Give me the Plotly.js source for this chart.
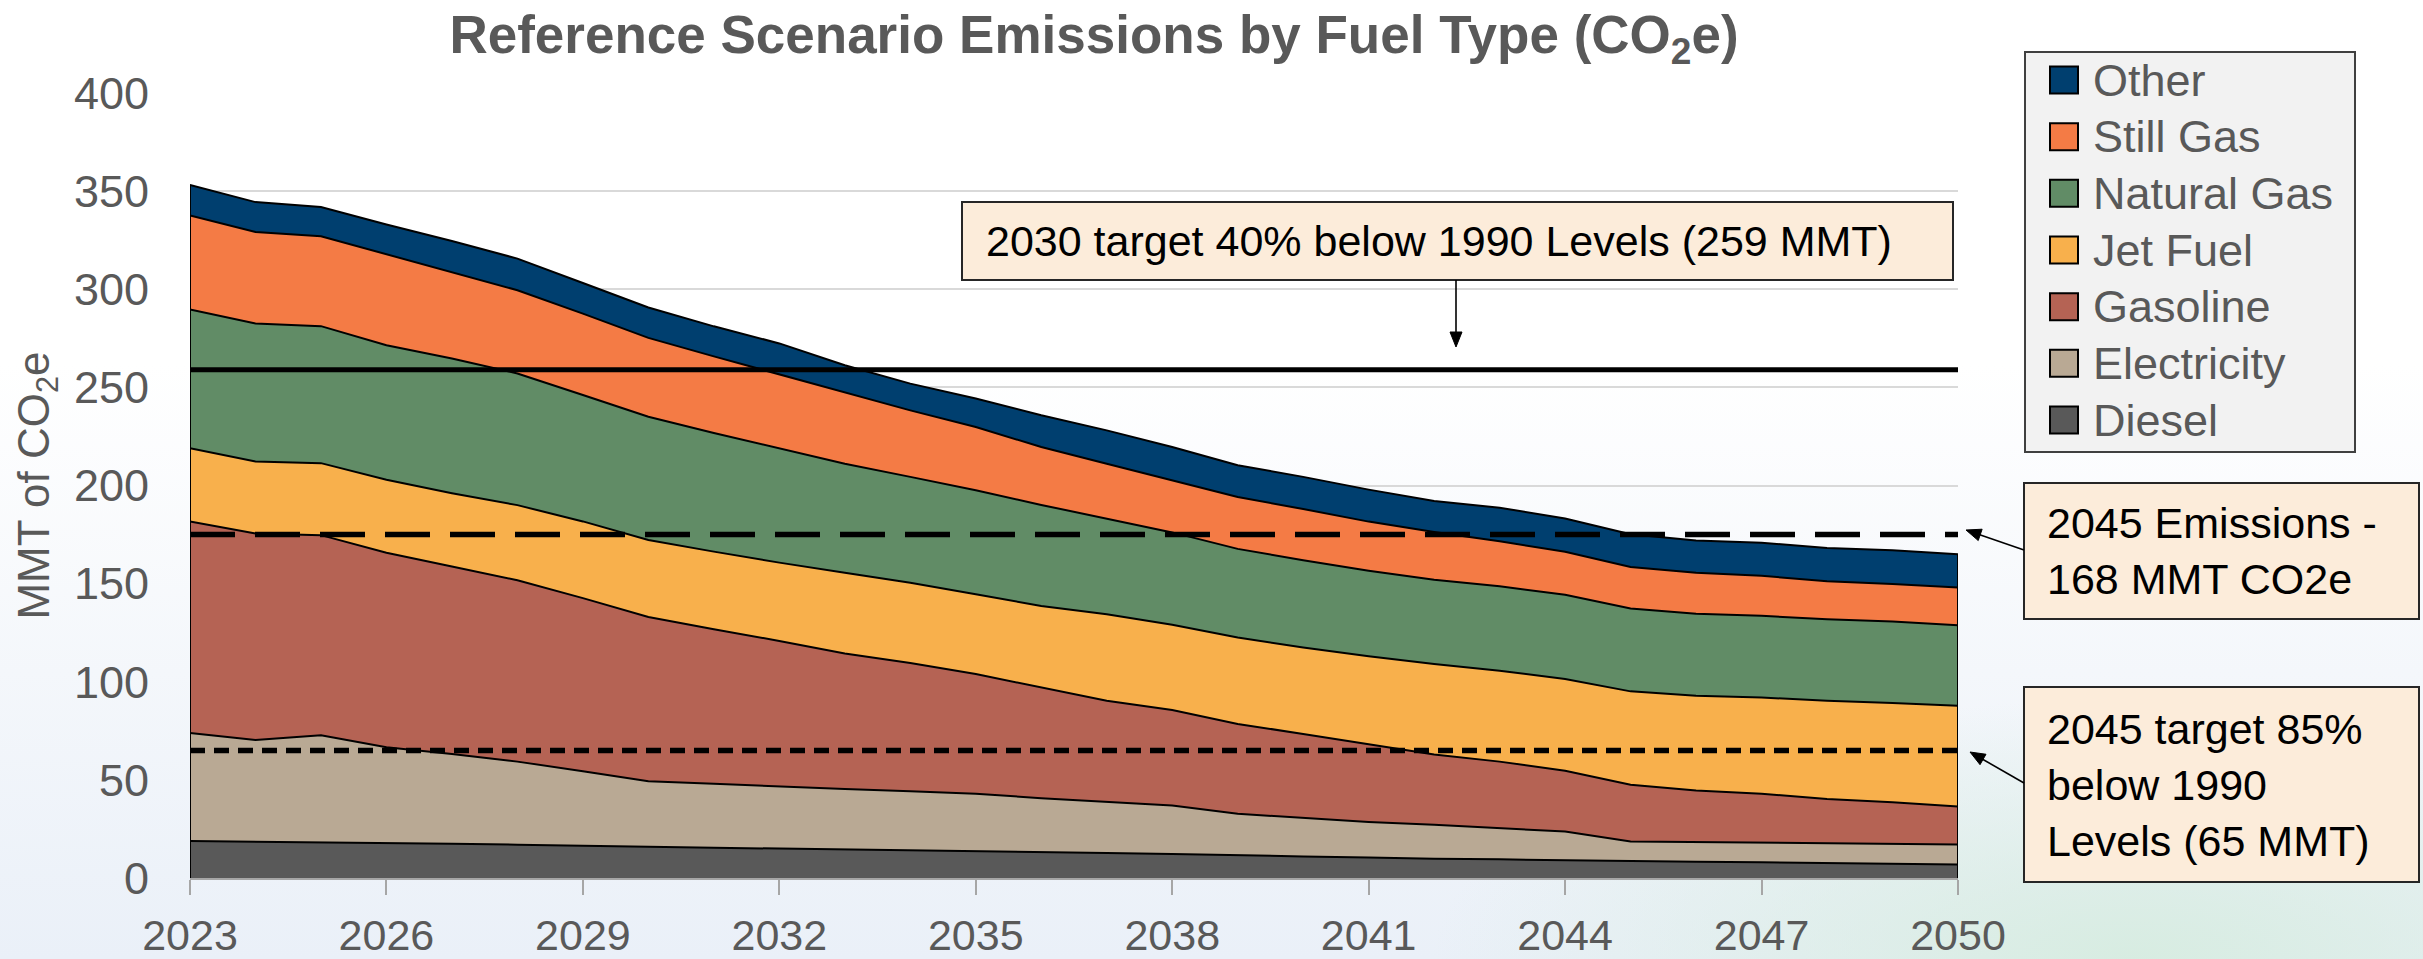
<!DOCTYPE html>
<html>
<head>
<meta charset="utf-8">
<script src="https://cdn.plot.ly/plotly-3.0.1.min.js"></script>
<style>
  html, body { margin: 0; padding: 0; }
  body {
    width: 2423px; height: 959px; overflow: hidden;
    background:
      radial-gradient(ellipse 700px 260px at 88% 100%, rgba(214,236,224,0.95) 0%, rgba(214,236,224,0) 100%),
      linear-gradient(180deg, #ffffff 0%, #ffffff 38%, #f4f7fb 70%, #eaf0f8 100%);
  }
  #chart { width: 2423px; height: 959px; }
</style>
</head>
<body>
<div id="chart"></div>
<script>
// ---------------- DATA ----------------
const years = [2023, 2024, 2025, 2026, 2027, 2028, 2029, 2030, 2031, 2032, 2033, 2034, 2035, 2036,
               2037, 2038, 2039, 2040, 2041, 2042, 2043, 2044, 2045, 2046, 2047, 2048, 2049, 2050];

const seriesNames = ["Diesel", "Electricity", "Gasoline", "Jet Fuel", "Natural Gas", "Still Gas", "Other"];

const diesel      = [18.8, 18.5, 18.3, 17.8, 17.4, 17.0, 16.4, 15.8, 15.4, 15.0, 14.6, 14.2, 13.7, 13.2,
                     12.7, 12.2, 11.5, 11.0, 10.5, 9.8, 9.5, 9.0, 8.6, 8.3, 8.0, 7.6, 7.3, 6.9];
const electricity = [55.1, 51.8, 54.4, 48.8, 45.8, 42.3, 38.0, 33.5, 32.6, 31.6, 30.8, 30.0, 29.2, 27.5,
                     26.3, 24.8, 21.2, 19.5, 18.0, 17.3, 15.9, 14.7, 10.0, 10.0, 10.0, 10.0, 10.2, 10.2];
const gasoline    = [107.8, 105.2, 102.0, 99.1, 95.5, 92.4, 88.2, 83.7, 78.8, 74.2, 69.0, 65.3, 61.0, 56.4,
                     51.3, 48.6, 45.8, 42.9, 39.8, 35.8, 33.9, 31.0, 28.9, 26.3, 24.9, 22.7, 21.1, 19.3];
const jetFuel     = [37.3, 36.7, 36.7, 37.2, 37.4, 38.3, 39.1, 39.2, 39.5, 39.9, 41.2, 40.9, 40.7, 41.5,
                     44.1, 43.4, 44.0, 44.1, 44.7, 46.1, 46.3, 46.7, 47.6, 48.3, 49.1, 50.0, 50.6, 51.4];
const naturalGas  = [70.7, 70.3, 69.8, 68.6, 68.6, 67.1, 64.4, 62.8, 60.5, 58.1, 55.5, 54.0, 53.0, 51.5,
                     48.6, 47.1, 45.2, 44.4, 43.6, 43.0, 43.1, 42.9, 42.2, 41.8, 41.6, 41.6, 41.5, 41.0];
const stillGas    = [47.9, 46.7, 45.8, 46.3, 44.1, 42.4, 41.5, 40.2, 39.0, 37.9, 36.6, 33.9, 32.2, 29.5,
                     28.1, 26.5, 26.4, 26.1, 25.0, 24.3, 22.9, 21.9, 21.2, 20.9, 20.4, 19.3, 19.1, 19.2];
const other       = [15.6, 15.2, 14.9, 15.2, 15.8, 16.1, 15.6, 15.5, 15.3, 15.7, 13.6, 13.6, 14.5, 16.2,
                     17.0, 17.0, 16.2, 16.4, 16.3, 15.8, 17.1, 17.0, 16.7, 16.4, 16.8, 17.0, 17.2, 17.0];

const xTickVals  = [2023, 2026, 2029, 2032, 2035, 2038, 2041, 2044, 2047, 2050];
const xTickText  = ["2023", "2026", "2029", "2032", "2035", "2038", "2041", "2044", "2047", "2050"];
const yTickVals  = [0, 50, 100, 150, 200, 250, 300, 350, 400];
const yTickText  = ["0", "50", "100", "150", "200", "250", "300", "350", "400"];

// reference levels (MMT CO2e)
const refNames  = ["2030 target", "2045 emissions", "2045 target"];
const refValues = [259, 175, 65];

const boxTexts = [
  "2030 target 40% below 1990 Levels (259 MMT)",
  "2045 Emissions -<br>168 MMT CO2e",
  "2045 target 85%<br>below 1990<br>Levels (65 MMT)"
];

// ---------------- STYLE ----------------
const seriesData   = [diesel, electricity, gasoline, jetFuel, naturalGas, stillGas, other];
const seriesColors = ["#595959", "#b9a994", "#b56354", "#f8b04c", "#618c66", "#f47b45", "#003f6f"];
const FONT = "Liberation Sans, Arial, sans-serif";
const GRAY = "#595959";
const W = 2423, H = 959;
const M = {l: 190, r: 465, t: 93, b: 81};
const PW = W - M.l - M.r, PH = H - M.t - M.b;
const px2paperX = x => (x - M.l) / PW;
const px2paperY = y => (H - M.b - y) / PH;

const traces = seriesData.map((vals, i) => ({
  type: "scatter", mode: "lines", x: years, y: vals, name: seriesNames[i],
  stackgroup: "one", fillcolor: seriesColors[i],
  line: {color: "#000000", width: 2}, hoverinfo: "skip", showlegend: false, cliponaxis: false
}));

// vertical outline edges at both ends of the stack
const totals = years.map((_, j) => seriesData.reduce((s, arr) => s + arr[j], 0));
[0, years.length - 1].forEach(j => {
  traces.push({
    type: "scatter", mode: "lines", x: [years[j], years[j]], y: [0, totals[j]],
    line: {color: "#000000", width: 2}, hoverinfo: "skip", showlegend: false, cliponaxis: false
  });
});

// reference lines
const refStyles = [{dash: "solid", width: 5}, {dash: "45px,20px", width: 5.5}, {dash: "15px,9px", width: 5.5}];
const shapes = refValues.map((v, i) => ({
  type: "line", xref: "paper", x0: 0, x1: 1, yref: "y", y0: v, y1: v, layer: "above",
  line: {color: "#000000", width: refStyles[i].width, dash: refStyles[i].dash}
}));

const annotations = [];

// annotation boxes (pixel layout)
const boxes = [
  {x0: 962,  x1: 1953, y0: 202, y1: 280, tx: 984},
  {x0: 2024, x1: 2419, y0: 483, y1: 619, tx: 2045},
  {x0: 2024, x1: 2419, y0: 687, y1: 882, tx: 2045}
];
boxes.forEach((b, i) => {
  shapes.push({
    type: "rect", xref: "paper", yref: "paper",
    x0: px2paperX(b.x0), x1: px2paperX(b.x1), y0: px2paperY(b.y1), y1: px2paperY(b.y0),
    fillcolor: "#fcecda", line: {color: "#262626", width: 2}, layer: "above"
  });
  annotations.push({
    xref: "paper", yref: "paper", x: px2paperX(b.tx), y: px2paperY((b.y0 + b.y1) / 2),
    xanchor: "left", yanchor: "middle", align: "left", showarrow: false,
    text: boxTexts[i], font: {family: FONT, size: 43, color: "#000000"}
  });
});

// arrows (tail -> tip, pixel layout) drawn as shapes
const arrows = [
  {x1: 1456, y1: 280, x2: 1456, y2: 347},
  {x1: 2024, y1: 550, x2: 1966, y2: 530},
  {x1: 2024, y1: 783, x2: 1970, y2: 752}
];
arrows.forEach(a => {
  const dx = a.x2 - a.x1, dy = a.y2 - a.y1, len = Math.hypot(dx, dy);
  const ux = dx / len, uy = dy / len, nx = -uy, ny = ux;
  const L = 15, hw = 6;
  const bx = a.x2 - ux * L, by = a.y2 - uy * L;
  shapes.push({
    type: "line", xref: "paper", yref: "paper", layer: "above",
    x0: px2paperX(a.x1), y0: px2paperY(a.y1), x1: px2paperX(bx + ux * 2), y1: px2paperY(by + uy * 2),
    line: {color: "#000000", width: 1.6}
  });
  const pts = [[a.x2, a.y2], [bx + nx * hw, by + ny * hw], [bx - nx * hw, by - ny * hw]];
  shapes.push({
    type: "path", xref: "paper", yref: "paper", layer: "above",
    path: "M" + pts.map(p => px2paperX(p[0]) + "," + px2paperY(p[1])).join(" L") + " Z",
    fillcolor: "#000000", line: {color: "#000000", width: 1}
  });
});

// manual legend (top = Other)
const leg = {x0: 2025, x1: 2355, y0: 52, y1: 452, sw0: 2050, sw1: 2078, tx: 2091, row0: 80, step: 56.67, half: 13.5};
shapes.push({
  type: "rect", xref: "paper", yref: "paper",
  x0: px2paperX(leg.x0), x1: px2paperX(leg.x1), y0: px2paperY(leg.y1), y1: px2paperY(leg.y0),
  fillcolor: "#f2f2f2", line: {color: "#404040", width: 2}, layer: "above"
});
for (let k = 0; k < seriesNames.length; k++) {
  const idx = seriesNames.length - 1 - k;
  const cy = leg.row0 + k * leg.step;
  shapes.push({
    type: "rect", xref: "paper", yref: "paper",
    x0: px2paperX(leg.sw0), x1: px2paperX(leg.sw1), y0: px2paperY(cy + leg.half), y1: px2paperY(cy - leg.half),
    fillcolor: seriesColors[idx], line: {color: "#000000", width: 2}, layer: "above"
  });
  annotations.push({
    xref: "paper", yref: "paper", x: px2paperX(leg.tx), y: px2paperY(cy),
    xanchor: "left", yanchor: "middle", showarrow: false,
    text: seriesNames[idx], font: {family: FONT, size: 45, color: GRAY}
  });
}

const layout = {
  width: W, height: H,
  margin: M,
  paper_bgcolor: "rgba(0,0,0,0)", plot_bgcolor: "rgba(0,0,0,0)",
  showlegend: false,
  title: {
    text: "<b>Reference Scenario Emissions by Fuel Type (CO<sub>2</sub>e)</b>",
    font: {family: FONT, size: 53, color: GRAY},
    xref: "container", x: 0.4515, xanchor: "center",
    yref: "container", y: 1 - 34 / H, yanchor: "middle"
  },
  xaxis: {
    type: "linear", range: [2023, 2050], tickvals: xTickVals, ticktext: xTickText,
    showgrid: false, zeroline: false, showline: true, linecolor: "#a6a6a6", linewidth: 2,
    ticks: "outside", ticklen: 15, tickwidth: 2, tickcolor: "#a6a6a6",
    ticklabelstandoff: 3,
    tickfont: {family: FONT, size: 43, color: GRAY}, fixedrange: true
  },
  yaxis: {
    range: [0, 400], tickvals: yTickVals, ticktext: yTickText,
    showgrid: true, gridcolor: "#d9d9d9", gridwidth: 2, zeroline: false, showline: false,
    ticks: "", ticklabelstandoff: 40,
    tickfont: {family: FONT, size: 45, color: GRAY},
    title: {text: "MMT of CO<sub>2</sub>e", font: {family: FONT, size: 44, color: GRAY}, standoff: 10},
    fixedrange: true
  },
  shapes: shapes,
  annotations: annotations
};

Plotly.newPlot("chart", traces, layout, {staticPlot: true, displayModeBar: false});
</script>
</body>
</html>
